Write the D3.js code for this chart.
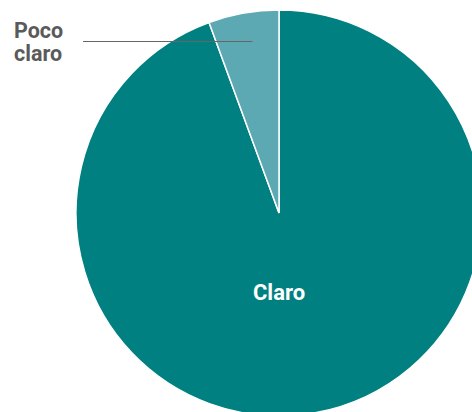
<!DOCTYPE html>
<html>
<head>
<meta charset="utf-8">
<script src="https://cdn.jsdelivr.net/npm/d3@7"></script>
<style>
  body { margin: 0; background: #fff; }
  text { font-family: Roboto, "Liberation Sans", sans-serif; font-weight: bold; }
</style>
</head>
<body>
<script>
// DATA
const categories = ["Claro", "Poco claro"];
const values = [94.4, 5.6];
const colors = ["#008080", "#5ca8b3"];
const smallLabelLines = ["Poco", "claro"];

const width = 472, height = 412;
const cx = 279, cy = 213, radius = 203;

const svg = d3.select("body").append("svg")
    .attr("width", width)
    .attr("height", height);

const data = categories.map((c, i) => ({ name: c, value: values[i], color: colors[i] }));

const pie = d3.pie().sort(null).value(d => d.value);
const arc = d3.arc().innerRadius(0).outerRadius(radius);

const g = svg.append("g").attr("transform", `translate(${cx},${cy})`);

const arcs = pie(data);

g.selectAll("path")
    .data(arcs)
    .enter()
    .append("path")
    .attr("d", arc)
    .attr("fill", d => d.data.color)
    .attr("stroke", "#fff")
    .attr("stroke-width", 1.5);

// Claro label inside
g.append("text")
    .attr("x", 0)
    .attr("y", 87)
    .attr("text-anchor", "middle")
    .attr("fill", "#fff")
    .attr("font-size", 22)
    .text(categories[0]);

// Poco claro leader line, ending inside the small slice
const small = arcs[1];
const mid = (small.startAngle + small.endAngle) / 2;
const px = Math.sin(mid) * 180;

svg.append("line")
    .attr("x1", 83)
    .attr("x2", cx + px + 5)
    .attr("y1", 41.5)
    .attr("y2", 41.5)
    .attr("stroke", "#666")
    .attr("stroke-width", 1.2);

svg.selectAll("text.small")
    .data(smallLabelLines)
    .enter()
    .append("text")
    .attr("class", "small")
    .attr("x", 14)
    .attr("y", (d, i) => 38 + i * 23)
    .attr("fill", "#5a5a5a")
    .attr("font-size", 21.5)
    .text(d => d);
</script>
</body>
</html>
